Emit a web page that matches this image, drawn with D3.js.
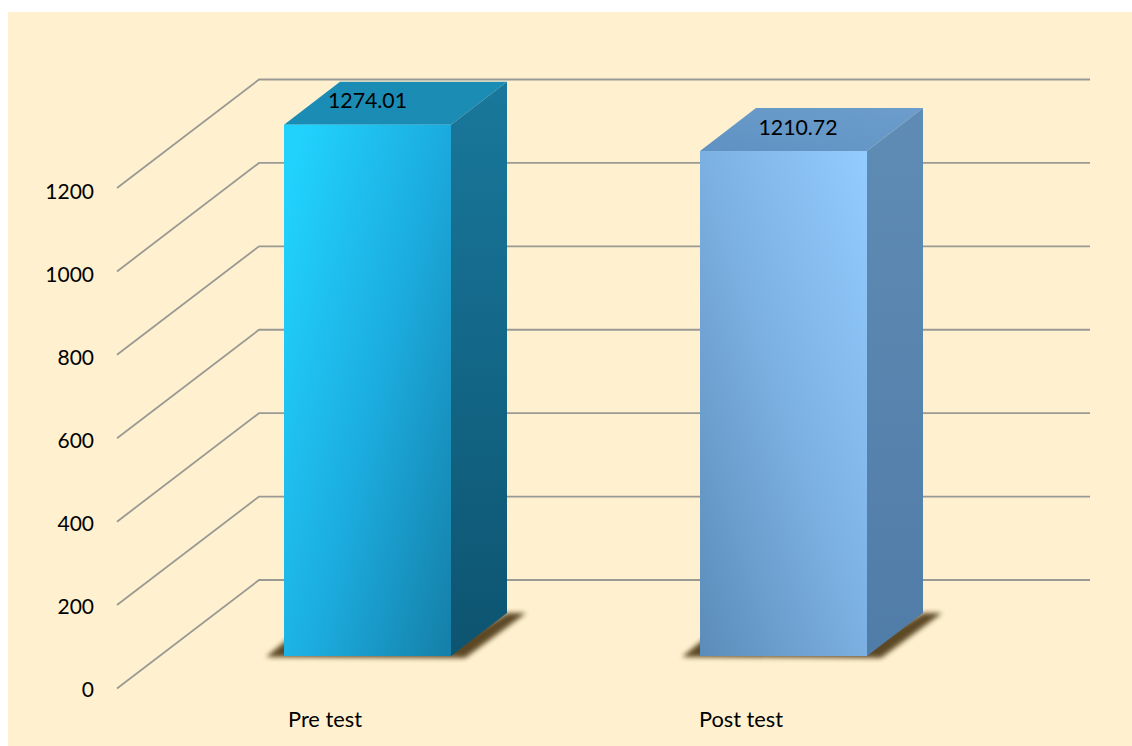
<!DOCTYPE html>
<html>
<head>
<meta charset="utf-8">
<script src="https://cdnjs.cloudflare.com/ajax/libs/d3/7.8.5/d3.min.js"></script>
<style>
html,body{margin:0;padding:0;background:#fff;}
svg{display:block;}
text{font-family:Lato,"Open Sans",sans-serif;fill:#000;}
</style>
</head>
<body>
<script>
const categories = ["Pre test", "Post test"];
const values = [1274.01, 1210.72];
const valueLabels = ["1274.01", "1210.72"];
const yTicks = [0, 200, 400, 600, 800, 1000, 1200];

const W = 1132, H = 746;
const svg = d3.select("body").append("svg").attr("width", W).attr("height", H);
const defs = svg.append("defs");

svg.append("rect").attr("x", 8).attr("y", 12).attr("width", W - 8).attr("height", H - 12).attr("fill", "#fff1cf");

const y = d3.scaleLinear().domain([0, 1200]).range([688.5, 188]);
const yLabel = d3.scaleLinear().domain([0, 1200]).range([697, 199]);
const x = d3.scaleBand().domain(categories).range([159.5, 991.5]);
const wallDx = 142, wallDy = -108.5, wallRight = 1090, frontLeft = 117;
const barW = 167, barBase = 656, depthX = 56, depthY = -43;
const h = v => y(0) - y(v);

const grad = (id, stops, x1, y1, x2, y2) => {
  const g = defs.append("linearGradient").attr("id", id)
    .attr("x1", x1).attr("y1", y1).attr("x2", x2).attr("y2", y2);
  stops.forEach(([o, c]) => g.append("stop").attr("offset", o).attr("stop-color", c));
};
grad("f0", [[0, "#21d2fd"], [0.5, "#1cade0"], [1, "#1581aa"]], 0, 0.15, 1, 0.95);
grad("s0", [[0, "#19789c"], [1, "#0d5470"]], 0, 0, 0, 1);
grad("t0", [[0, "#1a8cb5"], [1, "#1b8db4"]], 0, 0, 1, 0);
grad("f1", [[0, "#5b8cb9"], [0.5, "#7cb0e2"], [1, "#93ccff"]], 0, 1, 1, 0);
grad("s1", [[0, "#5f8cb4"], [1, "#507ca8"]], 0, 0, 0, 1);
grad("t1", [[0, "#5f92c3"], [1, "#6c9dcc"]], 0, 1, 1, 0);
defs.append("filter").attr("id", "blur").attr("x", "-20%").attr("y", "-20%").attr("width", "140%").attr("height", "140%")
  .append("feGaussianBlur").attr("stdDeviation", 2.6);
defs.append("filter").attr("id", "soft").attr("x", "-5%").attr("y", "-50%").attr("width", "110%").attr("height", "200%")
  .append("feGaussianBlur").attr("stdDeviation", 0.6);

// Walls: gridlines and diagonals
const grid = svg.append("g").attr("fill", "none").attr("stroke", "#9a9a94").attr("stroke-width", 1.8).attr("filter", "url(#soft)");
yTicks.forEach(t => {
  grid.append("path").attr("d", d3.line()([
    [frontLeft, y(t)],
    [frontLeft + wallDx, y(t) + wallDy],
    [wallRight, y(t) + wallDy]
  ]));
});

// Axis labels
svg.append("g").selectAll("text").data(yTicks).join("text")
  .attr("x", 94).attr("y", d => yLabel(d)).attr("text-anchor", "end")
  .attr("font-size", 21).text(d => d);

svg.append("g").selectAll("text").data(categories).join("text")
  .attr("x", d => x(d) + x.bandwidth() / 2 - 42.5)
  .attr("y", 727).attr("text-anchor", "middle").attr("font-size", 21.8).text(d => d);

// Bars
const labelShift = [0, 14.5];
const bars = svg.append("g").selectAll("g").data(categories).join("g");
bars.each(function (c, i) {
  const g = d3.select(this);
  const cx = x(c) + x.bandwidth() / 2;
  const x0 = cx - barW / 2, x1 = x0 + barW;
  const top = barBase - h(values[i]);
  const line = d3.line();

  g.append("path").attr("filter", "url(#blur)").attr("fill", "#55401f").attr("opacity", 0.95)
    .attr("d", line([[x0 - 18, barBase + 1], [x0 + 4, barBase - 17], [x1, barBase - 10],
      [x1 + depthX, barBase + depthY], [x1 + depthX + 19, barBase + depthY], [x1 + 14, barBase + 2]]) + "Z");

  g.append("path").attr("fill", `url(#t${i})`)
    .attr("d", line([[x0, top], [x0 + depthX, top + depthY], [x1 + depthX, top + depthY], [x1, top]]) + "Z");
  g.append("path").attr("fill", `url(#s${i})`)
    .attr("d", line([[x1, top], [x1 + depthX, top + depthY], [x1 + depthX, barBase + depthY], [x1, barBase]]) + "Z");
  g.append("rect").attr("x", x0).attr("y", top).attr("width", barW).attr("height", barBase - top).attr("fill", `url(#f${i})`);

  g.append("text").attr("x", cx + labelShift[i]).attr("y", top - 16.5)
    .attr("text-anchor", "middle").attr("font-size", 21.3).text(valueLabels[i]);
});
</script>
</body>
</html>
